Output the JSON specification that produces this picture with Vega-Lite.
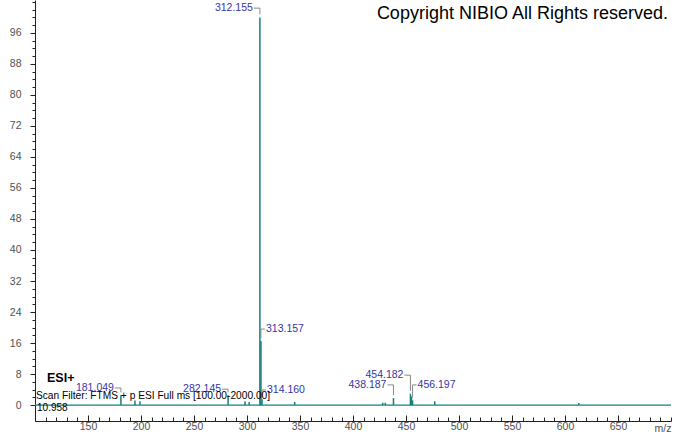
{
  "$schema": "https://vega.github.io/schema/vega-lite/v6.json",
  "width": 636,
  "height": 421,
  "autosize": {"type": "none"},
  "padding": {"left": 35, "right": 3, "top": 0, "bottom": 13},
  "background": "white",
  "config": {
    "view": {"stroke": null},
    "font": "Liberation Sans",
    "axis": {"grid": false, "domainColor": "#222222", "tickColor": "#222222", "labelColor": "#505050", "labelFont": "Liberation Sans", "labelFontSize": 10.5, "labelOverlap": false}
  },
  "resolve": {"axis": {"x": "independent", "y": "independent"}},
  "datasets": {
    "peaks": [
      {"mz": 181.049, "intensity": 2.5},
      {"mz": 194.3, "intensity": 1.2},
      {"mz": 199.0, "intensity": 1.0},
      {"mz": 282.145, "intensity": 2.5},
      {"mz": 298.1, "intensity": 1.0},
      {"mz": 302.0, "intensity": 0.8},
      {"mz": 312.155, "intensity": 100},
      {"mz": 313.157, "intensity": 16.5},
      {"mz": 314.160, "intensity": 1.5},
      {"mz": 345.0, "intensity": 0.8},
      {"mz": 428.0, "intensity": 0.6},
      {"mz": 430.5, "intensity": 0.6},
      {"mz": 438.187, "intensity": 1.8},
      {"mz": 454.182, "intensity": 2.9},
      {"mz": 455.2, "intensity": 2.2},
      {"mz": 456.197, "intensity": 1.2},
      {"mz": 477.1, "intensity": 1.0},
      {"mz": 613.0, "intensity": 0.5}
    ],
    "labels": [
      {"mz": 312.155, "intensity": 100, "label": "312.155", "labelY": 102.4, "side": "left"},
      {"mz": 313.157, "intensity": 16.5, "label": "313.157", "labelY": 19.6, "side": "right"},
      {"mz": 314.160, "intensity": 1.5, "label": "314.160", "labelY": 3.9, "side": "right"},
      {"mz": 181.049, "intensity": 2.5, "label": "181.049", "labelY": 4.4, "side": "left"},
      {"mz": 282.145, "intensity": 2.5, "label": "282.145", "labelY": 4.1, "side": "left"},
      {"mz": 438.187, "intensity": 1.8, "label": "438.187", "labelY": 5.2, "side": "left"},
      {"mz": 454.182, "intensity": 2.9, "label": "454.182", "labelY": 7.7, "side": "left"},
      {"mz": 456.197, "intensity": 1.2, "label": "456.197", "labelY": 5.2, "side": "right"}
    ]
  },
  "layer": [
    {
      "data": {"values": [{}]},
      "mark": {"type": "point", "opacity": 0},
      "encoding": {
        "x": {"datum": 100, "type": "quantitative", "scale": {"domain": [100, 700], "nice": false, "zero": false},
          "axis": {"orient": "bottom", "title": null, "domain": false, "labels": false,
            "values": [100,110,120,130,140,160,170,180,190,210,220,230,240,260,270,280,290,310,320,330,340,360,370,380,390,410,420,430,440,460,470,480,490,510,520,530,540,560,570,580,590,610,620,630,640,660,670,680,690,700],
            "tickSize": -4}},
        "y": {"datum": 0, "type": "quantitative", "scale": {"domain": [-4.12, 104.5], "nice": false, "zero": false},
          "axis": {"orient": "left", "title": null, "domain": false, "labels": false,
            "values": [2,4,6,10,12,14,18,20,22,26,28,30,34,36,38,42,44,46,50,52,54,58,60,62,66,68,70,74,76,78,82,84,86,90,92,94,98,100,102,104],
            "tickSize": 3}}
      }
    },
    {
      "data": {"values": [{}]},
      "mark": {"type": "rule", "color": "#14807d", "strokeWidth": 1.2},
      "encoding": {
        "y": {"datum": 0, "type": "quantitative", "axis": null}
      }
    },
    {
      "data": {"name": "peaks"},
      "mark": {"type": "rule", "color": "#14807d", "strokeWidth": 1.5},
      "encoding": {
        "x": {"field": "mz", "type": "quantitative",
          "axis": {
            "orient": "bottom",
            "title": "m/z", "titleX": 636, "titleY": 7, "titleAlign": "right", "titleBaseline": "middle", "titleAnchor": null,
            "titleFont": "Liberation Sans", "titleFontSize": 10.5, "titleFontWeight": "normal", "titleColor": "#505050",
            "values": [150,200,250,300,350,400,450,500,550,600,650],
            "tickSize": -6,
            "labelPadding": 6,
            "labelFlush": false
          }
        },
        "y": {"field": "intensity", "type": "quantitative",
          "axis": {
            "orient": "left",
            "title": null,
            "values": [0,8,16,24,32,40,48,56,64,72,80,88,96],
            "tickSize": 5,
            "labelPadding": 9
          }
        },
        "y2": {"datum": 0}
      }
    },
    {
      "data": {"name": "labels"},
      "mark": {"type": "rule", "color": "#8a8a8a", "strokeWidth": 1, "y2Offset": -3},
      "encoding": {
        "x": {"field": "mz", "type": "quantitative", "axis": null},
        "y": {"field": "labelY", "type": "quantitative", "axis": null},
        "y2": {"field": "intensity"}
      }
    },
    {
      "data": {"name": "labels"},
      "transform": [{"filter": "datum.side === 'left'"}],
      "mark": {"type": "rule", "color": "#8a8a8a", "strokeWidth": 1, "xOffset": -6},
      "encoding": {
        "x": {"field": "mz", "type": "quantitative", "axis": null},
        "x2": {"field": "mz"},
        "y": {"field": "labelY", "type": "quantitative", "axis": null}
      }
    },
    {
      "data": {"name": "labels"},
      "transform": [{"filter": "datum.side === 'right'"}],
      "mark": {"type": "rule", "color": "#8a8a8a", "strokeWidth": 1, "x2Offset": 4},
      "encoding": {
        "x": {"field": "mz", "type": "quantitative", "axis": null},
        "x2": {"field": "mz"},
        "y": {"field": "labelY", "type": "quantitative", "axis": null}
      }
    },
    {
      "data": {"name": "labels"},
      "transform": [{"filter": "datum.side === 'left'"}],
      "mark": {"type": "text", "align": "right", "baseline": "middle", "dx": -7, "font": "Liberation Sans", "fontSize": 10.5, "color": "#3535a5"},
      "encoding": {
        "x": {"field": "mz", "type": "quantitative", "axis": null},
        "y": {"field": "labelY", "type": "quantitative", "axis": null},
        "text": {"field": "label"}
      }
    },
    {
      "data": {"name": "labels"},
      "transform": [{"filter": "datum.side === 'right'"}],
      "mark": {"type": "text", "align": "left", "baseline": "middle", "dx": 5, "font": "Liberation Sans", "fontSize": 10.5, "color": "#3535a5"},
      "encoding": {
        "x": {"field": "mz", "type": "quantitative", "axis": null},
        "y": {"field": "labelY", "type": "quantitative", "axis": null},
        "text": {"field": "label"}
      }
    },
    {
      "data": {"values": [{"note": "Copyright NIBIO All Rights reserved."}]},
      "mark": {"type": "text", "align": "right", "baseline": "middle", "dx": -3, "font": "Liberation Sans", "fontSize": 18, "color": "#000000"},
      "encoding": {
        "x": {"datum": 700, "type": "quantitative", "axis": null},
        "y": {"datum": 100.85, "type": "quantitative", "axis": null},
        "text": {"field": "note"}
      }
    },
    {
      "data": {"values": [{"note": "ESI+"}]},
      "mark": {"type": "text", "align": "left", "baseline": "middle", "font": "Liberation Sans", "fontSize": 12.5, "fontWeight": "bold", "color": "#000000"},
      "encoding": {
        "x": {"datum": 111.3, "type": "quantitative", "axis": null},
        "y": {"datum": 7.0, "type": "quantitative", "axis": null},
        "text": {"field": "note"}
      }
    },
    {
      "data": {"values": [{"note": "Scan Filter: FTMS + p ESI Full ms [100.00-2000.00]"}]},
      "mark": {"type": "text", "align": "left", "baseline": "middle", "font": "Liberation Sans", "fontSize": 10.2, "color": "#000000"},
      "encoding": {
        "x": {"datum": 100.9, "type": "quantitative", "axis": null},
        "y": {"datum": 2.3, "type": "quantitative", "axis": null},
        "text": {"field": "note"}
      }
    },
    {
      "data": {"values": [{"note": "10.958"}]},
      "mark": {"type": "text", "align": "left", "baseline": "middle", "font": "Liberation Sans", "fontSize": 10, "color": "#000000"},
      "encoding": {
        "x": {"datum": 101.9, "type": "quantitative", "axis": null},
        "y": {"datum": -0.77, "type": "quantitative", "axis": null},
        "text": {"field": "note"}
      }
    }
  ]
}
